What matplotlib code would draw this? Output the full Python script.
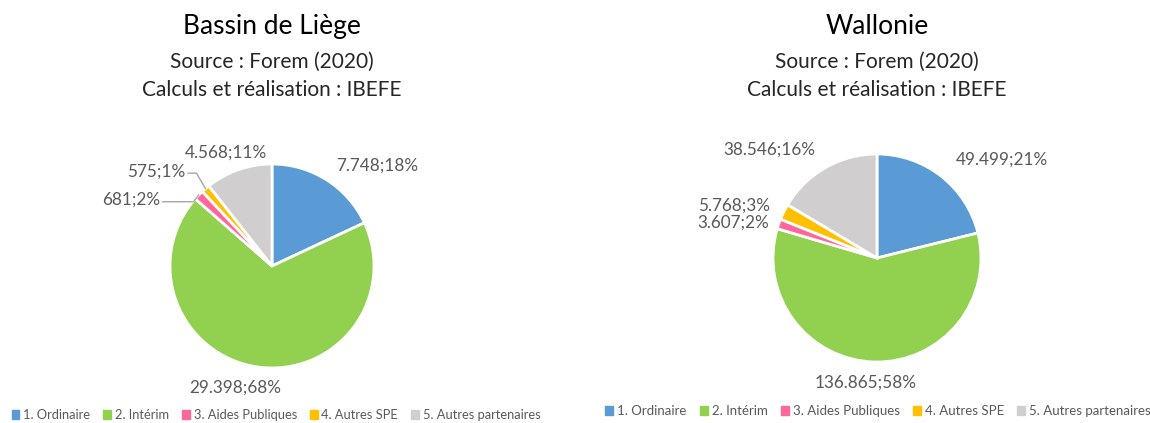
import matplotlib.pyplot as plt
import matplotlib.patches as mpatches
import numpy as np

plt.rcParams["font.family"] = ["Lato", "DejaVu Sans"]

categories = ["1. Ordinaire", "2. Intérim", "3. Aides Publiques", "4. Autres SPE", "5. Autres partenaires"]
colors = ["#5B9BD5", "#92D050", "#FF6699", "#FFC000", "#D0CECE"]

liege_values = [7748, 29398, 681, 575, 4568]
liege_labels = ["7.748;18%", "29.398;68%", "681;2%", "575;1%", "4.568;11%"]

wallonie_values = [49499, 136865, 3607, 5768, 38546]
wallonie_labels = ["49.499;21%", "136.865;58%", "3.607;2%", "5.768;3%", "38.546;16%"]

subtitle = ["Source : Forem (2020)", "Calculs et réalisation : IBEFE"]
text_grey = "#595959"

W, H = 1150, 423
fig = plt.figure(figsize=(W / 100, H / 100), dpi=100)


def draw_pie(x0, width, cx, cy, r, values, labels, title, layout, legend_xy, legend_fs):
    # axes in pixel units (y up), cy given from the top of the figure
    ax = fig.add_axes([x0 / W, 0, width / W, 1])
    cy = H - cy
    wedges, _ = ax.pie(values, colors=colors, startangle=90, counterclock=False,
                       center=(cx, cy), radius=r,
                       wedgeprops=dict(edgecolor="white", linewidth=2))
    ax.set_xlim(x0, x0 + width)
    ax.set_ylim(0, H)
    ax.set_aspect("equal")
    ax.axis("off")
    ax.text(cx, H - 26, title, ha="center", va="center", fontsize=19, color="black")
    ax.text(cx, H - 62, subtitle[0], ha="center", va="center", fontsize=15, color="#262626")
    ax.text(cx, H - 90, subtitle[1], ha="center", va="center", fontsize=15, color="#262626")
    for w, lab, lay in zip(wedges, labels, layout):
        mid = np.deg2rad((w.theta1 + w.theta2) / 2)
        ux, uy = np.cos(mid), np.sin(mid)
        if lay[0] == "out":
            _, rf, ha, dx, dy = lay
            tx, ty = cx + rf * r * ux + dx, cy + rf * r * uy + dy
        else:
            _, (ex, ey), (tx_, ty_), ha = lay
            sx, sy = cx + r * ux, cy + r * uy
            elx, ely = cx + ex * r, cy + ey * r
            tx, ty = cx + tx_ * r, cy + ty_ * r
            ax.plot([sx, elx, tx + 3], [sy, ely, ely], color="#A6A6A6", lw=1)
        ax.text(tx, ty, lab, ha=ha, va="center", fontsize=12.3, color=text_grey)
    handles = [mpatches.Patch(color=c) for c in colors]
    ax.legend(handles, categories, loc="center", bbox_to_anchor=(legend_xy[0] / W, 1 - legend_xy[1] / H),
              bbox_transform=fig.transFigure, ncol=5, frameon=False, fontsize=legend_fs,
              handlelength=0.6, handleheight=0.6, handletextpad=0.3, columnspacing=1.0,
              labelcolor=text_grey)


liege_layout = [
    ("out", 1.17, "left", 0, 0),
    ("out", 1.2, "center", -20, 0),
    ("lead", (-0.77, 0.63), (-1.10, 0.65), "right"),
    ("lead", (-0.74, 0.91), (-0.85, 0.93), "right"),
    ("out", 1.18, "center", -7, 0),
]
wallonie_layout = [
    ("out", 1.2, "left", 2, 0),
    ("out", 1.2, "center", -9, 0),
    ("out", 1.1, "right", 0, -2),
    ("out", 1.1, "right", -4, 2),
    ("out", 1.2, "right", 0, 0),
]

draw_pie(0, 575, 272, 266, 102, liege_values, liege_labels, "Bassin de Liège", liege_layout, (276, 415), 9.3)
draw_pie(575, 575, 877, 258, 104, wallonie_values, wallonie_labels, "Wallonie", wallonie_layout, (878, 411), 9.5)

fig.savefig("out.png", dpi=100)
